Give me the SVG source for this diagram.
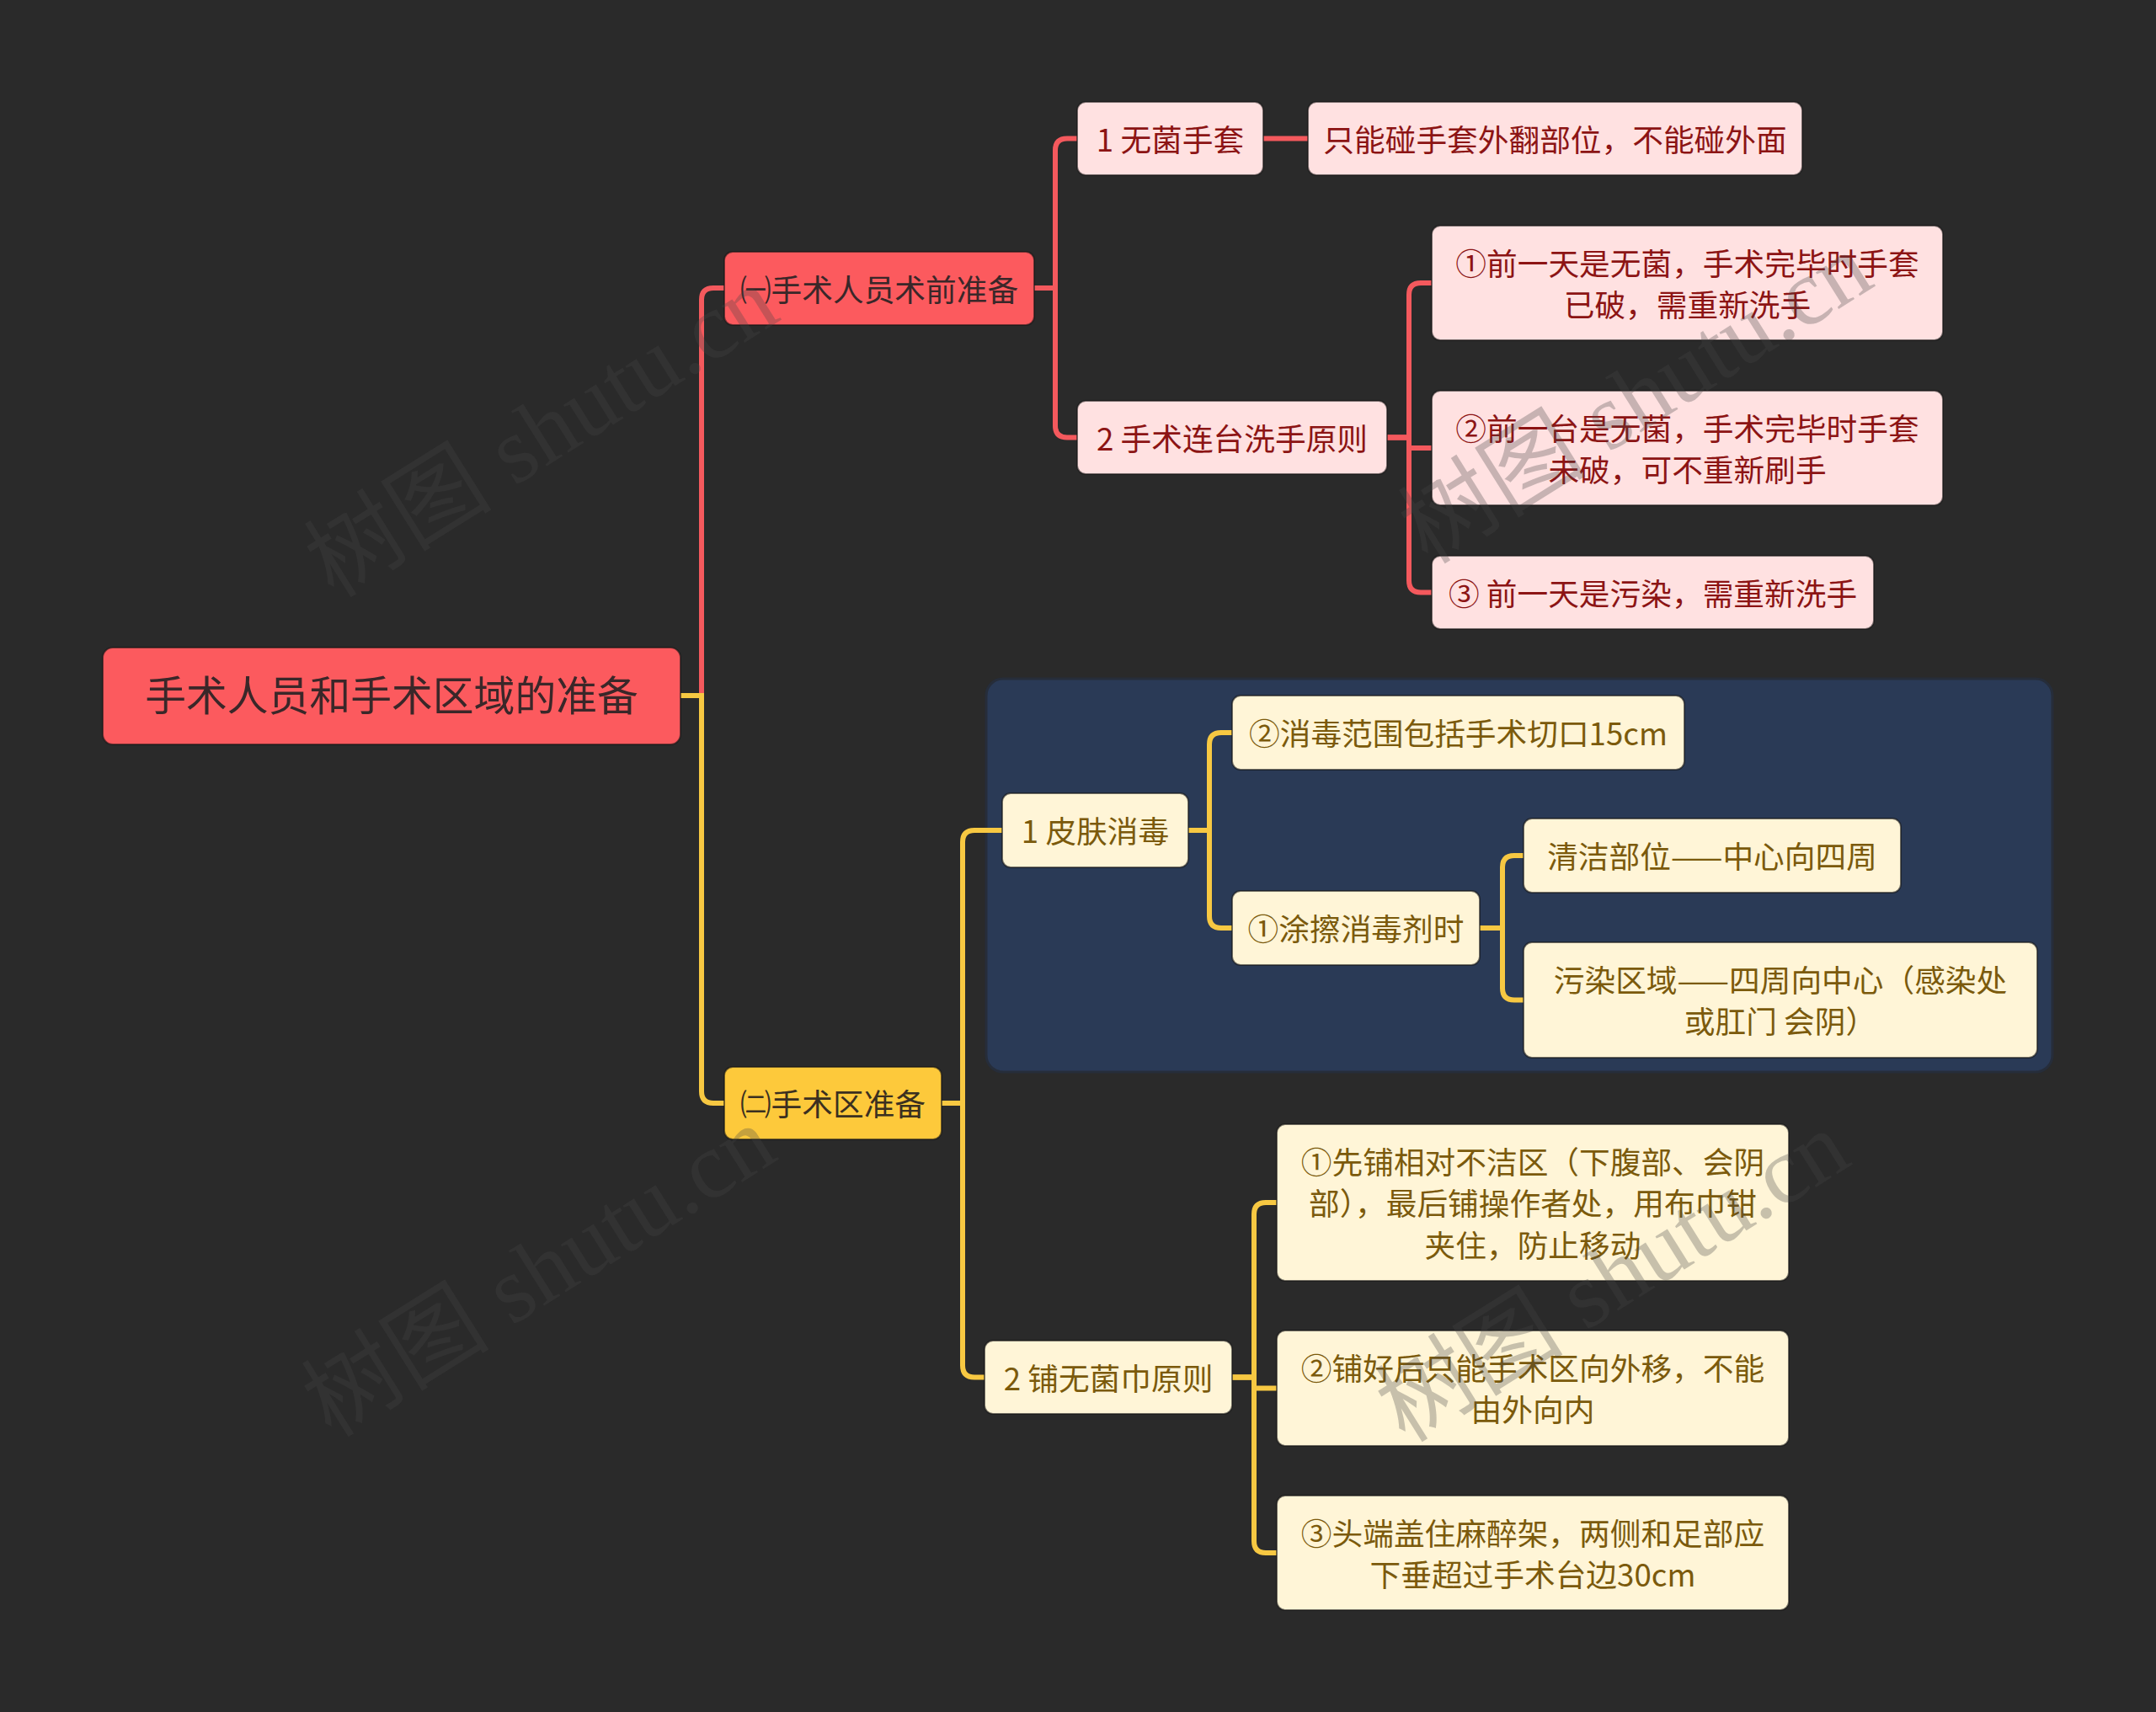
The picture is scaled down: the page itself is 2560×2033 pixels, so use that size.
<svg xmlns="http://www.w3.org/2000/svg" width="2560" height="2033" viewBox="0 0 2560 2033">
<style>
text{font-family:"Noto Sans CJK SC","Noto Sans",sans-serif;text-anchor:middle}
.t{font-size:36.7px}
.root rect{fill:#FC5A5E}
.root text{fill:#3A2729;font-size:48.8px}
.l1r rect{fill:#FC5A5E}
.l1r text{fill:#3A2729}
.l1y rect{fill:#FDC93B}
.l1y text{fill:#3B3020}
.pk rect{fill:#FFE1E1}
.pk text{fill:#8C1414}
.cr rect{fill:#FFF5D7}
.cr text{fill:#7B5A0C}
rect.n{stroke:#151515;stroke-opacity:.6;stroke-width:2}
.cr-red path{fill:none;stroke:#F4595D;stroke-width:6}
.cr-yel path{fill:none;stroke:#F7C842;stroke-width:6}
.wm{font-family:"Liberation Serif","Noto Sans CJK SC",serif;font-size:112px;fill:#454545;fill-opacity:.3}
</style>
<rect x="0" y="0" width="2560" height="2033" fill="#2A2A2A"/>
<rect id="summary-box" x="1171" y="806" width="1266" height="467" rx="20" fill="#2A3A56" stroke="#262d3a" stroke-width="3"/>
<g id="connectors">
<g class="cr-red">
<path d="M808,826 H833 V356 Q833,342 847,342 H860"/>
<path d="M1228,342 H1253 V178.5 Q1253,164.5 1267,164.5 H1279"/>
<path d="M1228,342 H1253 V505.5 Q1253,519.5 1267,519.5 H1279"/>
<path d="M1500,164.5 H1553"/>
<path d="M1647,519.5 H1673 V350 Q1673,336 1687,336 H1700"/>
<path d="M1647,519.5 H1673 V532 H1700"/>
<path d="M1647,519.5 H1673 V689.5 Q1673,703.5 1687,703.5 H1700"/>
</g>
<g class="cr-yel">
<path d="M808,826 H833 V1296 Q833,1310 847,1310 H860"/>
<path d="M1118,1310 H1143 V1000 Q1143,986 1157,986 H1190"/>
<path d="M1118,1310 H1143 V1621.5 Q1143,1635.5 1157,1635.5 H1169"/>
<path d="M1411,986 H1436 V884 Q1436,870 1450,870 H1463"/>
<path d="M1411,986 H1436 V1088 Q1436,1102 1450,1102 H1463"/>
<path d="M1757,1102 H1784 V1030 Q1784,1016 1798,1016 H1809"/>
<path d="M1757,1102 H1784 V1173.5 Q1784,1187.5 1798,1187.5 H1809"/>
<path d="M1463,1635.5 H1489 V1442 Q1489,1428 1503,1428 H1516"/>
<path d="M1463,1635.5 H1489 V1648.5 H1516"/>
<path d="M1463,1635.5 H1489 V1830 Q1489,1844 1503,1844 H1516"/>
</g>
</g>
<g id="root" class="root"><rect class="n" x="122" y="769" width="686" height="115" rx="12"/><text x="465" y="844">手术人员和手术区域的准备</text></g>
<g id="n1" class="l1r"><rect class="n" x="860" y="299" width="368" height="87" rx="10"/><text class="t" x="1044" y="357.5">㈠手术人员术前准备</text></g>
<g id="n1a" class="pk"><rect class="n" x="1279" y="121" width="221" height="87" rx="10"/><text class="t" x="1389.5" y="179.5">1 无菌手套</text></g>
<g id="n1a1" class="pk"><rect class="n" x="1553" y="121" width="587" height="87" rx="10"/><text class="t" x="1846.5" y="179.5">只能碰手套外翻部位，不能碰外面</text></g>
<g id="n1b" class="pk"><rect class="n" x="1279" y="476" width="368" height="87" rx="10"/><text class="t" x="1463" y="534.5">2 手术连台洗手原则</text></g>
<g id="n1b1" class="pk"><rect class="n" x="1700" y="268" width="607" height="136" rx="10"/><text class="t" x="2003.5" y="327">①前一天是无菌，手术完毕时手套</text><text class="t" x="2003.5" y="376">已破，需重新洗手</text></g>
<g id="n1b2" class="pk"><rect class="n" x="1700" y="464" width="607" height="136" rx="10"/><text class="t" x="2003.5" y="523">②前一台是无菌，手术完毕时手套</text><text class="t" x="2003.5" y="572">未破，可不重新刷手</text></g>
<g id="n1b3" class="pk"><rect class="n" x="1700" y="660" width="525" height="87" rx="10"/><text class="t" x="1962.5" y="718.5">③ 前一天是污染，需重新洗手</text></g>
<g id="n2" class="l1y"><rect class="n" x="860" y="1267" width="258" height="86" rx="10"/><text class="t" x="989" y="1325">㈡手术区准备</text></g>
<g id="n2a" class="cr"><rect class="n" x="1190" y="942" width="221" height="88" rx="10"/><text class="t" x="1300.5" y="1001">1 皮肤消毒</text></g>
<g id="n2a1" class="cr"><rect class="n" x="1463" y="826" width="537" height="88" rx="10"/><text class="t" x="1731.5" y="885">②消毒范围包括手术切口15cm</text></g>
<g id="n2a2" class="cr"><rect class="n" x="1463" y="1058" width="294" height="88" rx="10"/><text class="t" x="1610" y="1117">①涂擦消毒剂时</text></g>
<g id="n2a2a" class="cr"><rect class="n" x="1809" y="972" width="448" height="88" rx="10"/><text class="t" x="2033" y="1031">清洁部位——中心向四周</text></g>
<g id="n2a2b" class="cr"><rect class="n" x="1809" y="1119" width="610" height="137" rx="10"/><text class="t" x="2114" y="1178">污染区域——四周向中心（感染处</text><text class="t" x="2114" y="1227">或肛门 会阴）</text></g>
<g id="n2b" class="cr"><rect class="n" x="1169" y="1592" width="294" height="87" rx="10"/><text class="t" x="1316" y="1650.5">2 铺无菌巾原则</text></g>
<g id="n2b1" class="cr"><rect class="n" x="1516" y="1335" width="608" height="186" rx="10"/><text class="t" x="1820" y="1393.5">①先铺相对不洁区（下腹部、会阴</text><text class="t" x="1820" y="1443">部），最后铺操作者处，用布巾钳</text><text class="t" x="1820" y="1492.5">夹住，防止移动</text></g>
<g id="n2b2" class="cr"><rect class="n" x="1516" y="1580" width="608" height="137" rx="10"/><text class="t" x="1820" y="1639">②铺好后只能手术区向外移，不能</text><text class="t" x="1820" y="1688">由外向内</text></g>
<g id="n2b3" class="cr"><rect class="n" x="1516" y="1776" width="608" height="136" rx="10"/><text class="t" x="1820" y="1834.5">③头端盖住麻醉架，两侧和足部应</text><text class="t" x="1820" y="1883.5">下垂超过手术台边30cm</text></g>
<g id="watermarks">
<text class="wm" transform="translate(663,545) rotate(-32)">树图 shutu.cn</text>
<text class="wm" transform="translate(1962,505) rotate(-32)">树图 shutu.cn</text>
<text class="wm" transform="translate(660,1542) rotate(-32)">树图 shutu.cn</text>
<text class="wm" transform="translate(1935,1548) rotate(-32)">树图 shutu.cn</text>
</g>
</svg>
